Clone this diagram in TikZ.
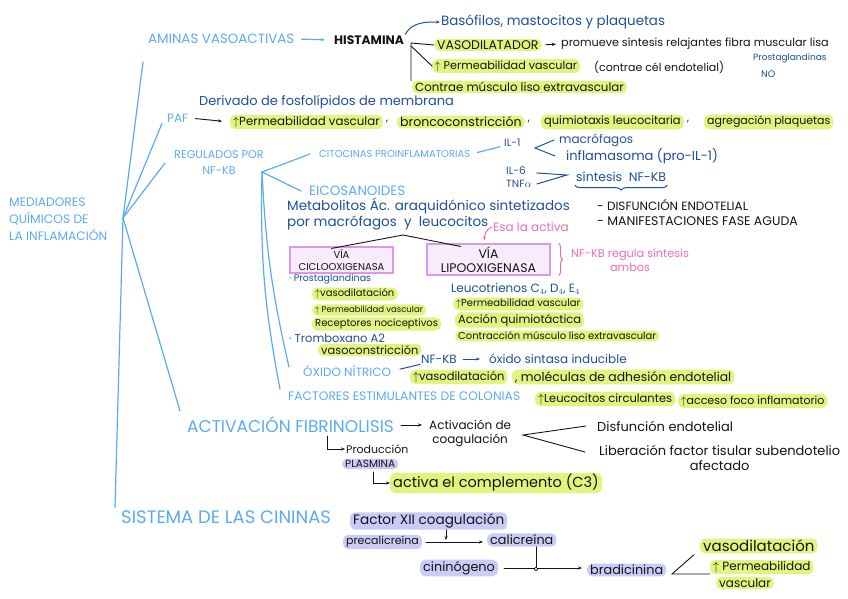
\documentclass[tikz,border=0pt]{standalone}
\usepackage{fontspec}
\setmainfont{Poppins}
\usetikzlibrary{arrows.meta, positioning, calc, decorations.pathreplacing}
\definecolor{lblue}{HTML}{5AABF4}
\definecolor{dblue}{HTML}{1E4E9C}
\definecolor{ink}{HTML}{141414}
\definecolor{hlg}{HTML}{E1F57E}
\definecolor{lav}{HTML}{CACBF6}
\definecolor{pinkc}{HTML}{EE6CB4}
\definecolor{vio}{HTML}{D79AEB}
\definecolor{violt}{HTML}{F8ECFC}
\tikzset{
  fs/.style={font=\fontsize{#1}{#1}\selectfont},
  fsl/.style 2 args={font=\fontsize{#1}{#2}\selectfont},
  head/.style={anchor=west, inner sep=1pt, text=lblue, fs=10},
  sub/.style={anchor=west, inner sep=1pt, text=dblue, align=left, fs=10},
  txt/.style={anchor=west, inner sep=1pt, text=ink, align=left, fs=10},
  hlbox/.style={txt, fill=hlg, rounded corners=5pt, inner xsep=3pt, inner ysep=1.5pt},
  lavbox/.style={txt, fill=lav, rounded corners=5pt, inner xsep=3pt, inner ysep=1.5pt},
  viabox/.style={draw=vio, fill=violt, line width=1.1pt, align=center, text=ink, inner sep=2pt},
  pinktxt/.style={anchor=west, inner sep=1pt, text=pinkc, align=center, fs=10},
  bl/.style={draw=lblue, line width=1.2pt, line cap=round},
  db/.style={draw=dblue, line width=1pt, line cap=round},
  ln/.style={draw=ink, line width=0.9pt, line cap=round},
  ar/.style={ln, -{Stealth[length=4pt]}},
}
\begin{document}
\begin{tikzpicture}[x=1pt, y=-1pt]
\useasboundingbox (0,0) rectangle (848,599);

% tronco
\node[head, align=left, fsl={12.3}{17}] (med) at (8,219) {MEDIADORES\\QUÍMICOS DE\\LA INFLAMACIÓN};
\coordinate (hub) at (123,218);

% aminas vasoactivas
\node[head, fs=13.4] (amin) at (147,39) {AMINAS VASOACTIVAS};
\node[txt, fs=12.3] (hist) at (333,40) {\bfseries HISTAMINA};
\draw[bl, -{Stealth[length=4pt]}, shorten <=6pt, shorten >=8pt] (amin.east) -- (hist.west);
\node[sub, fs=13.4] (baso) at (440,22) {Basófilos, mastocitos y plaquetas};
\draw[db, -{Stealth[length=4pt]}] (hist.north east) to[out=60,in=180] (baso.west);
\node[hlbox, fs=12.5] (vaso1) at (434,45) {VASODILATADOR};
\node[txt, fs=11.2] (prom) at (560,44) {promueve síntesis relajantes fibra muscular lisa};
\draw[ar, shorten <=4pt, shorten >=4pt] (vaso1.east) -- (prom.west);
\node[hlbox, fs=11.2] (perm1) at (432,66) {$\uparrow$ Permeabilidad vascular};
\node[txt, fs=11] (endo1) at (593,67) {(contrae cél endotelial)};
\node[sub, fs=9] (pg) at (752,58) {Prostaglandinas};
\node[sub, fs=9.5] (no) at (760,74) {NO};
\node[hlbox, fs=11.8] (liso1) at (412,87) {Contrae músculo liso extravascular};
\coordinate (br) at (411,43);
\draw[ln] (vaso1.west) -- (br) -- (br |- liso1.north);
\draw[ln] ([yshift=-3pt]br) -- (perm1.west);

% PAF
\node[sub, fs=13] (deriv) at (198,102) {Derivado de fosfolípidos de membrana};
\node[head, fs=12] (paf) at (166,118) {PAF};
\node[hlbox, fs=11.8] (perm2) at (230,122) {$\uparrow$Permeabilidad vascular};
\draw[ar, shorten <=6pt, shorten >=8pt] (paf.east) -- (perm2.west);
\node[txt, right=2pt of perm2] (c1) {,};
\node[hlbox, fs=12.5] (bronco) at (397,122) {broncoconstricción};
\node[txt, right=2pt of bronco] (c2) {,};
\node[hlbox, fs=11.4] (quim) at (541,122) {quimiotaxis leucocitaria};
\node[txt, right=2pt of quim] (c3) {,};
\node[hlbox, fs=11] (agre) at (704,122) {agregación plaquetas};

% regulados por NF-KB
\node[head, align=center, fsl={11.2}{16}] (reg) at (173,163) {REGULADOS POR\\NF-KB};
\coordinate (hub2) at (262,172);
\node[head, fs=10] (cito) at (318,154) {CITOCINAS PROINFLAMATORIAS};
\node[sub, fs=10.5] (il1) at (503,143) {IL-1};
\draw[bl, shorten <=6pt, shorten >=3pt] (cito.east) -- ([yshift=-3pt]il1.west);
\node[sub, fs=12] (macro) at (558,140) {macrófagos};
\node[sub, fs=13] (infla) at (565,156) {inflamasoma (pro-IL-1)};
\coordinate (s3) at (535,148);
\draw[db] ([xshift=-4pt]macro.west) -- (s3) -- ([xshift=-10pt]infla.west);
\node[sub, fsl={10.5}{13}] (il6) at (505,177) {IL-6\\TNF$\alpha$};
\coordinate (s4) at (567,175);
\draw[db] ([shift={(4,-4)}]il6.east) -- (s4) -- ([shift={(4,7)}]il6.east);
\node[sub, fs=12.5] (sint) at (575,177) {síntesis \ NF-KB};
\draw[db, decorate, decoration={brace, mirror, amplitude=5pt}] ([yshift=-2pt]sint.south west) -- ([yshift=-2pt]sint.south east);
\node[txt, fs=12] (disf) at (596,205) {- DISFUNCIÓN ENDOTELIAL};
\node[txt, fs=12.5] (manif) at (596,221) {- MANIFESTACIONES FASE AGUDA};

% eicosanoides
\node[head, fs=13.5] (eico) at (308,191) {EICOSANOIDES};
\node[sub, fsl={13.5}{14}] (meta) at (286,214) {Metabolitos Ác. araquidónico sintetizados\\por macrófagos \ y \ leucocitos};
\coordinate (apex) at (403,235);
\node[viabox, fsl={10}{12}, minimum width=103pt, minimum height=26pt] (cox) at (341.5,260) {VÍA\\CICLOOXIGENASA};
\node[viabox, fsl={12.5}{14}, minimum width=123pt, minimum height=31pt] (lox) at (488.5,259.5) {VÍA\\LIPOOXIGENASA};
\draw[ln] ([shift={(-10,2)}]cox.north) -- (apex) -- ([shift={(-28,3)}]lox.north);
\node[pinktxt, fs=12] (esa) at (492,227) {Esa la activa};
\draw[pinkc, line width=1pt, -{Stealth[length=4pt]}] (esa.west) to[out=200,in=90] ([shift={(-4,-3)}]lox.north);
\draw[pinkc, line width=1pt, decorate, decoration={brace, amplitude=4pt}] ([xshift=8pt]lox.north east) -- ([xshift=8pt]lox.south east);
\node[pinktxt, fsl={11.3}{14}] (nfr) at (570,260) {NF-KB regula síntesis\\ambos};

\node[sub, fs=9.5] (prost) at (288,279) {· Prostaglandinas};
\node[hlbox] (vaso2) at (312,294) {$\uparrow$vasodilatación};
\node[hlbox, fs=8.5] (perm4) at (312,310) {$\uparrow$ Permeabilidad vascular};
\node[hlbox] (recep) at (312,324) {Receptores nociceptivos};
\node[sub, fs=11.5] (trom) at (288,338) {· Tromboxano A2};
\node[hlbox, fs=11.4] (vcon) at (318,350) {vasoconstricción};

\node[sub, fs=12] (leuco) at (450,289) {Leucotrienos C$_4$, D$_4$, E$_4$};
\node[hlbox] (perm5) at (453,304) {$\uparrow$Permeabilidad vascular};
\node[hlbox, fs=11.5] (acc1) at (455,320) {Acción quimiotáctica};
\node[hlbox] (contr) at (455,336) {Contracción músculo liso extravascular};

% oxido nitrico
\node[head, fs=12] (oxi) at (302,371) {ÓXIDO NÍTRICO};
\node[sub, fs=12] (nfk) at (420,359) {NF-KB};
\node[sub, fs=12] (osi) at (488,359) {óxido sintasa inducible};
\draw[db, -{Stealth[length=4pt]}, shorten <=5pt, shorten >=8pt] (nfk.east) -- (osi.west);
\draw[db, shorten <=8pt] (oxi.east) -- (nfk.south west);
\node[hlbox, fs=11.5] (vaso3) at (410,377) {$\uparrow$vasodilatación};
\node[hlbox, fs=12.4] (mol) at (512,377) {, moléculas de adhesión endotelial};

% factores estimulantes de colonias
\node[head, fs=12.3] (fact) at (287,396) {FACTORES ESTIMULANTES DE COLONIAS};
\node[hlbox, fs=11.5] (leuc) at (535,399) {$\uparrow$Leucocitos circulantes};
\node[hlbox, fs=11] (acfo) at (678,401) {$\uparrow$acceso foco inflamatorio};

% ramas de NF-KB
\draw[bl] (hub2) -- ([xshift=-8pt]cito.west);
\draw[bl] (hub2) -- ([xshift=-7pt]eico.west);
\draw[bl] (hub2) to[bend right=5] ([shift={(-13,-4)}]oxi.west);
\draw[bl] (hub2) to[bend right=6] ([shift={(-7,-7)}]fact.west);

% fibrinolisis
\node[head, fs=17] (fib) at (186,425) {ACTIVACIÓN FIBRINOLISIS};
\node[txt, align=center, fsl={12}{14}] (coag) at (428,433) {Activación de\\coagulación};
\draw[ar, shorten <=6pt, shorten >=6pt] (fib.east) -- (fib.east -| coag.west);
\coordinate (sp1) at (523,435);
\node[txt, fs=13] (disf2) at (596,426) {Disfunción endotelial};
\node[txt, align=center, fsl={13}{15}] (lib) at (598,458) {Liberación factor tisular subendotelio\\afectado};
\draw[ln] ([xshift=-10pt]disf2.west) -- (sp1) -- ([shift={(-13,-6)}]lib.west);
\node[txt, fs=11] (prod) at (345,449) {Producción};
\node[lavbox, fs=10.5] (plas) at (342,464) {PLASMINA};
\coordinate (h1) at (327,436);
\draw[ar] (h1) |- (prod.west);
\node[hlbox, fs=14.5] (comp) at (390,483) {activa el complemento (C3)};
\coordinate (h2) at (373,472);
\draw[ar] (h2) |- (comp.west);

% cininas
\node[head, fs=18] (cin) at (120,517) {SISTEMA DE LAS CININAS};
\node[lavbox, fs=13.6] (f12) at (350,521) {Factor XII coagulación};
\node[lavbox, fs=11] (prec) at (343,542) {precalicreína};
\node[lavbox, fs=12.8] (cali) at (487,540) {calicreína};
\draw[ar, shorten <=4pt, shorten >=4pt] (prec.east) -- (prec.east -| cali.west);
\coordinate (j1) at (446,542);
\draw[ar, shorten >=2pt] (j1 |- f12.south) -- (j1);
\node[lavbox, fs=12.8] (cini) at (420,568) {cininógeno};
\node[lavbox, fs=12.8] (brad) at (587,570) {bradicinina};
\draw[ar, shorten <=6pt, shorten >=5pt] (cini.east) -- (cini.east -| brad.west);
\coordinate (j2) at (536,569);
\draw[ln] (j2 |- cali.south) -- (j2);
\node[circle, draw=ink, line width=0.8pt, fill=white, inner sep=1.3pt] (jc) at (j2) {};
\coordinate (sp2) at (672,574);
\node[hlbox, fs=15] (vaso4) at (700,546) {vasodilatación};
\node[hlbox, fs=12] (perm6) at (710,567) {$\uparrow$ Permeabilidad};
\node[hlbox, fs=12] (vasc6) at (716,583) {vascular};
\draw[ln] ([shift={(-6,1)}]vaso4.south west) -- (sp2) -- (sp2 -| perm6.west);

% ramas principales
\draw[bl] (hub) -- ([shift={(-4,17)}]amin.south west);
\draw[bl] (hub) -- ([xshift=-4pt]paf.south west);
\draw[bl] (hub) -- ([xshift=-8pt]reg.west);
\draw[bl] (hub) -- ([shift={(-6,-5)}]fib.north west);
\draw[bl] (hub) -- ([shift={(-5,-2)}]cin.north west);
\end{tikzpicture}
\end{document}
